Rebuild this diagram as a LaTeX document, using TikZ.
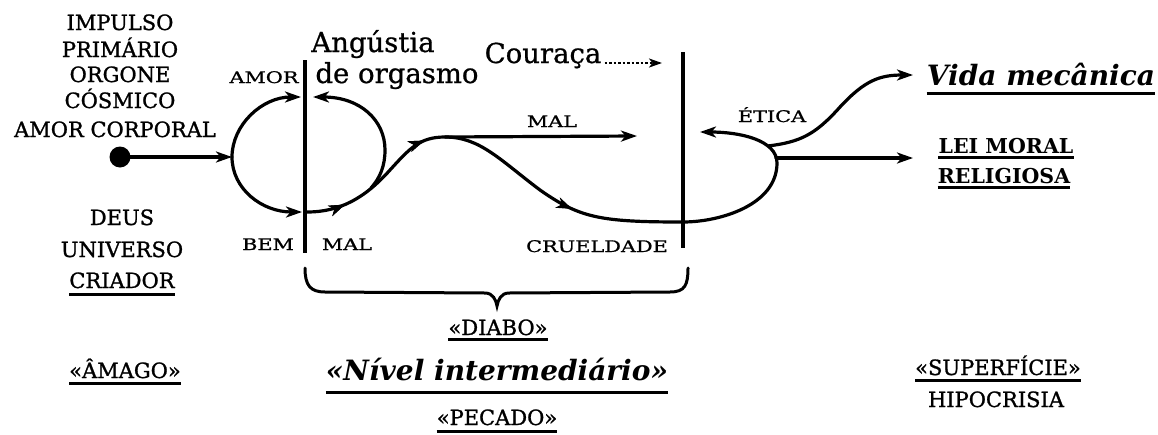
\documentclass[tikz,border=0pt]{standalone}
\usepackage{fontspec}
\setmainfont{DejaVu Serif}
\newfontfamily\capf[FakeBold=1.2]{DejaVu Serif}
\newfontfamily\smf[FakeStretch=1.3,FakeBold=1]{DejaVu Serif}
\newfontfamily\bigf[FakeBold=0.8]{DejaVu Serif}
\newfontfamily\bif{DejaVu Serif}
\usetikzlibrary{arrows.meta,decorations.markings}
\tikzset{
  lab/.style={inner sep=0pt, anchor=base},
  caps/.style={lab, font=\capf\fontsize{21}{23}\selectfont},
  small/.style={lab, font=\smf\fontsize{16}{18}\selectfont},
  big/.style={lab, font=\bigf\fontsize{27.5}{30}\selectfont},
  bigbi/.style={lab, font=\bif\bfseries\itshape\fontsize{28}{30}\selectfont},
  boldcaps/.style={lab, font=\bif\bfseries\fontsize{20.5}{22}\selectfont},
  tip/.style={-{Stealth[length=16pt,width=11pt,inset=4.5pt]}},
  midtip/.style={postaction={decorate},decoration={markings,mark=at position #1 with {\arrow{Stealth[length=16pt,width=11pt,inset=4.5pt]}}}},
  flow/.style={line width=3.2pt, line cap=round},
  bar/.style={line width=3.4pt},
  ul/.style={line width=3pt},
}
\begin{document}
\begin{tikzpicture}[x=1pt,y=-1pt]
\useasboundingbox (0,0) rectangle (1158,434);
% left text block
\node[caps] (imp) at (120,30) {IMPULSO};
\node[caps] (pri) at (120,57) {PRIMÁRIO};
\node[caps] (org) at (120,82) {ORGONE};
\node[caps] (cos) at (120,108) {CÓSMICO};
\node[caps] (amc) at (115,137) {AMOR\ CORPORAL};
\node[caps] (deus) at (122,225) {DEUS};
\node[caps] (univ) at (122,257) {UNIVERSO};
\node[caps] (cria) at (122,288) {CRIADOR};
\node[caps] (amago) at (125,378) {«ÂMAGO»};
\draw[ul] ([yshift=-6pt]cria.base west) -- ([yshift=-6pt]cria.base east);
\draw[ul] ([yshift=-5pt]amago.base west) -- ([yshift=-5pt]amago.base east);
% dot and left loop
\node[circle, fill, inner sep=0pt, minimum size=21pt] (dot) at (120,157) {};
\coordinate (lleft) at (232,157);
\coordinate (ltop) at (301,97);
\coordinate (lbot) at (302,212);
\draw[flow,tip] (dot.center) -- (lleft);
\draw[flow,tip] (lleft) .. controls (232,125) and (262,97) .. (ltop);
\draw[flow,tip] (lleft) .. controls (232,189) and (262,212) .. (lbot);
% vertical bars
\coordinate (b1t) at (305,60);
\coordinate (b1b) at (305,253);
\coordinate (b2t) at (683,52);
\coordinate (b2b) at (683,248);
\draw[bar] (b1t) -- (b1b);
\draw[bar] (b2t) -- (b2b);
% labels near bar 1
\node[small] (amor) at (264,83) {AMOR};
\node[small] (bem) at (268,250) {BEM};
\node[small] (mal1) at (347,250) {MAL};
\node[big] (ang) at (373,52) {Angústia};
\node[big] (dorg) at (397,83) {de orgasmo};
\node[big] (cour) at (543,63) {Couraça};
\coordinate (courend) at (662,63);
\draw[line width=2.2pt, dash pattern=on 2.5pt off 2pt, -{Stealth[length=13pt,width=9pt,inset=3.5pt]}] ([xshift=3pt]cour.base east) -- (courend);
% S-curve
\coordinate (s0) at (307,212);
\coordinate (s1) at (390,170);
\coordinate (peak) at (445,137);
\coordinate (malend) at (637,136);
\coordinate (b2x) at (683,222);
\coordinate (eticaend) at (700,132);
\draw[flow,tip,midtip=0.11,midtip=0.40] (s0) .. controls (340,212) and (365,198) .. (s1)
  .. controls (410,148) and (420,137) .. (peak) -- (malend);
\node[small] (mal2) at (552,127) {MAL};
% inner loop
\coordinate (il0) at (371,188);
\draw[flow,tip] (il0) .. controls (380,178) and (385,166) .. (385,150)
  .. controls (385,120) and (360,97) .. (313,97);
% descending branch
\draw[flow,midtip=0.57] (peak) .. controls (480,137) and (500,160) .. (540,190)
  .. controls (580,218) and (600,222) .. (b2x);
\node[small] (cru) at (597,252) {CRUELDADE};
% right loop
\draw[flow,tip] (b2x) .. controls (720,222) and (777,205) .. (777,163)
  .. controls (777,140) and (740,132) .. (eticaend);
\node[small] (etica) at (772,122) {ÉTICA};
\coordinate (vm0) at (768,146);
\coordinate (vmend) at (913,75);
\coordinate (lm0) at (776,158);
\coordinate (lmend) at (913,158);
\draw[flow,tip] (vm0) .. controls (800,142) and (815,135) .. (840,107)
  .. controls (865,80) and (880,75) .. (vmend);
\draw[flow,tip] (lm0) -- (lmend);
% right labels
\node[bigbi] (vida) at (1041,85) {Vida\ mecânica};
\draw[ul] ([yshift=-8pt]vida.base west) -- ([yshift=-8pt]vida.base east);
\node[boldcaps] (lei) at (1006,153) {LEI\ MORAL};
\node[boldcaps] (rel) at (1004,183) {RELIGIOSA};
\draw[ul] ([yshift=-4pt]lei.base west) -- ([yshift=-4pt]lei.base east);
\draw[ul] ([yshift=-4pt]rel.base west) -- ([yshift=-4pt]rel.base east);
% brace
\coordinate (brl) at (305,268);
\coordinate (brtip) at (497,306);
\coordinate (brr) at (688,268);
\draw[line width=3pt, line cap=round] (brl) .. controls (305,285) and (310,292) .. (325,292) -- (485,293)
  .. controls (493,293) and (496,300) .. (brtip)
  .. controls (498,300) and (501,293) .. (509,293) -- (670,292)
  .. controls (685,292) and (688,285) .. (brr);
% bottom labels
\node[caps] (diabo) at (498,335) {«DIABO»};
\draw[ul] ([yshift=-4pt]diabo.base west) -- ([yshift=-4pt]diabo.base east);
\node[bigbi] (nivel) at (497,380) {«Nível\ intermediário»};
\draw[ul] ([yshift=-12pt]nivel.base west) -- ([yshift=-12pt]nivel.base east);
\node[caps] (pec) at (497,425) {«PECADO»};
\draw[ul] ([yshift=-6pt]pec.base west) -- ([yshift=-6pt]pec.base east);
\node[caps] (sup) at (998,375) {«SUPERFÍCIE»};
\draw[ul] ([yshift=-5pt]sup.base west) -- ([yshift=-5pt]sup.base east);
\node[caps] (hip) at (996,407) {HIPOCRISIA};
\end{tikzpicture}
\end{document}
